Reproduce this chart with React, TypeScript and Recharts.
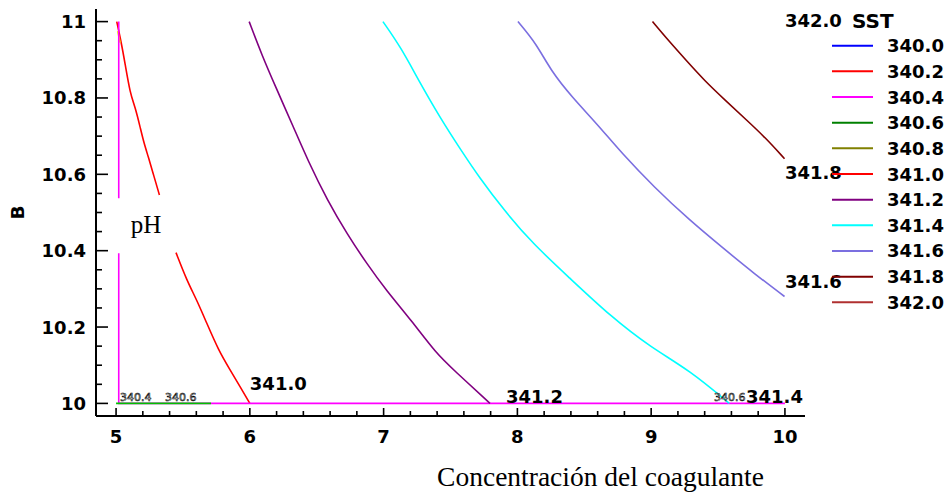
import React from 'react';
import { LineChart, Line, XAxis, YAxis, ReferenceDot, Legend, Label } from 'recharts';

// ---------- axes ----------
const xTicks = [5, 5.2, 5.4, 5.6, 5.8, 6, 6.2, 6.4, 6.6, 6.8, 7, 7.2, 7.4, 7.6, 7.8, 8, 8.2, 8.4, 8.6, 8.8, 9, 9.2, 9.4, 9.6, 9.8, 10];
const xMajorTicks = [5, 6, 7, 8, 9, 10];
const yTicks = [10, 10.05, 10.1, 10.15, 10.2, 10.25, 10.3, 10.35, 10.4, 10.45, 10.5, 10.55, 10.6, 10.65, 10.7, 10.75, 10.8, 10.85, 10.9, 10.95, 11];
const yMajorTicks = [10, 10.2, 10.4, 10.6, 10.8, 11];
const yMajorLabels = ['10', '10.2', '10.4', '10.6', '10.8', '11'];
const xDomain = [4.85, 10.15];
const yDomain = [9.967, 11.033];

// ---------- legend ----------
const levels = ['340.0', '340.2', '340.4', '340.6', '340.8', '341.0', '341.2', '341.4', '341.6', '341.8', '342.0'];
const levelColors = ['#0000ff', '#ff0000', '#ff00ff', '#008000', '#808000', '#ff0000', '#800080', '#00ffff', '#7b6fe0', '#800000', '#b03030'];

// ---------- contours ----------
// 340.4 (magenta) - broken where the "pH" label sits
const c3404X = [5.02, 5.02, 5.02, 5.02, 5.02, 10.0];
const c3404Y = [11.0, 10.537, null, 10.393, 10.0, 10.0];
// 340.6 (green)
const c3406X = [5.0, 5.71];
const c3406Y = [10.0, 10.0];
// 340.8 (small piece near top)
const c3408X = [5.012, 5.03];
const c3408Y = [10.975, 10.945];
// 341.0 (red) - upper and lower parts
const c3410aX = [5.005, 5.035, 5.067, 5.105, 5.142, 5.179, 5.209, 5.241, 5.284, 5.324];
const c3410aY = [11.0, 10.952, 10.891, 10.812, 10.777, 10.725, 10.681, 10.646, 10.594, 10.546];
const c3410bX = [5.448, 5.528, 5.603, 5.678, 5.765, 5.852, 5.927, 6.0];
const c3410bY = [10.395, 10.323, 10.271, 10.21, 10.14, 10.088, 10.044, 10.0];
// 341.2 (purple)
const c3412X = [5.995, 6.087, 6.194, 6.327, 6.434, 6.581, 6.727, 6.874, 7.02, 7.208, 7.395, 7.529, 7.795];
const c3412Y = [11.0, 10.915, 10.828, 10.723, 10.636, 10.531, 10.444, 10.366, 10.296, 10.217, 10.13, 10.086, 10.0];
// 341.4 (cyan)
const c3414X = [6.995, 7.128, 7.262, 7.421, 7.581, 7.715, 7.902, 8.116, 8.383, 8.703, 8.996, 9.29, 9.584];
const c3414Y = [11.0, 10.933, 10.846, 10.749, 10.662, 10.592, 10.505, 10.418, 10.331, 10.226, 10.147, 10.086, 10.0];
// 341.6 (slate blue)
const c3416X = [8.004, 8.142, 8.249, 8.409, 8.596, 8.783, 9.023, 9.29, 9.53, 9.77, 9.997];
const c3416Y = [11.0, 10.942, 10.872, 10.802, 10.732, 10.654, 10.566, 10.479, 10.409, 10.34, 10.28];
// 341.8 (dark red)
const c3418X = [9.01, 9.13, 9.263, 9.397, 9.557, 9.717, 9.851, 9.997];
const c3418Y = [11.0, 10.95, 10.898, 10.846, 10.793, 10.741, 10.697, 10.641];

// ---------- contour labels ----------
const contourLabelText = ['341.0', '341.2', '341.4', '341.6', '341.8', '342.0'];
const contourLabelX = [6.0, 7.915, 9.709, 10.0, 10.0, 10.0];
const contourLabelY = [10.053, 10.019, 10.019, 10.318, 10.606, 11.004];
const smallLabelText = ['340.4', '340.6', '340.6'];
const smallLabelX = [5.03, 5.366, 9.47];
const smallLabelY = [10.004, 10.004, 10.004];
const phLabel = 'pH';
const phX = 5.11;
const phY = 10.446;

const xLabel = 'Concentración del coagulante';
const yLabel = 'B';
const legendTitle = 'SST';

const zip = (xs: number[], ys: (number | null)[]) => xs.map((x, i) => ({ x, y: ys[i] }));

const series = [
  { key: '341.0a', data: zip(c3410aX, c3410aY), color: '#ff0000', curve: 'basis' },
  { key: '341.0b', data: zip(c3410bX, c3410bY), color: '#ff0000', curve: 'basis' },
  { key: '340.8', data: zip(c3408X, c3408Y), color: '#f0f000', curve: 'linear' },
  { key: '340.4', data: zip(c3404X, c3404Y), color: '#ff00ff', curve: 'linear' },
  { key: '340.6', data: zip(c3406X, c3406Y), color: '#00c000', curve: 'linear' },
  { key: '341.2', data: zip(c3412X, c3412Y), color: '#800080', curve: 'basis' },
  { key: '341.4', data: zip(c3414X, c3414Y), color: '#00ffff', curve: 'basis' },
  { key: '341.6', data: zip(c3416X, c3416Y), color: '#7b6fe0', curve: 'basis' },
  { key: '341.8', data: zip(c3418X, c3418Y), color: '#800000', curve: 'basis' },
];

const BOLD = { fontFamily: 'DejaVu Sans, Arial, sans-serif', fontWeight: 'bold' as const };

const isInt = (v: number) => Math.abs(v - Math.round(v)) < 1e-6;
const isYMajor = (v: number) => Math.abs(v * 5 - Math.round(v * 5)) < 1e-6;

const BottomTick = (props: any) => {
  const { x, y, payload } = props;
  const v = payload.value;
  const major = isInt(v);
  return (
    <g>
      <line x1={x} x2={x} y1={y} y2={y - (major ? 8 : 5)} stroke="#000" strokeWidth={1.6} />
      {major && (
        <text x={x} y={y + 27} textAnchor="middle" fontSize={18} fill="#000" {...BOLD}>
          {xMajorTicks.find((m) => Math.abs(m - v) < 1e-6)}
        </text>
      )}
    </g>
  );
};

const TopTick = (props: any) => {
  const { x, y } = props;
  return <line x1={x} x2={x} y1={y} y2={y + 7} stroke="#000" strokeWidth={1.6} />;
};

const LeftTick = (props: any) => {
  const { x, y, payload } = props;
  const v = payload.value;
  const major = isYMajor(v);
  const idx = yMajorTicks.findIndex((m) => Math.abs(m - v) < 1e-6);
  return (
    <g>
      <line x1={x} x2={x + (major ? 12 : 6)} y1={y} y2={y} stroke="#000" strokeWidth={1.6} />
      {major && idx >= 0 && (
        <text x={x - 10} y={y + 6.5} textAnchor="end" fontSize={18} fill="#000" {...BOLD}>
          {yMajorLabels[idx]}
        </text>
      )}
    </g>
  );
};

const RightTick = (props: any) => {
  const { x, y, payload } = props;
  const major = isYMajor(payload.value);
  return <line x1={x} x2={x - (major ? 12 : 6)} y1={y} y2={y} stroke="#000" strokeWidth={1.6} />;
};

const LegendBox = () => (
  <svg width={947} height={495} style={{ position: 'absolute', left: 0, top: 0, overflow: 'visible' }}>
    <text x={852} y={27.5} fontSize={20} fill="#000" {...BOLD}>
      {legendTitle}
    </text>
    {levels.map((lv, i) => {
      const cy = 45.7 + i * 25.66;
      return (
        <g key={lv}>
          <line x1={832} x2={873} y1={cy} y2={cy} stroke={levelColors[i]} strokeWidth={2} />
          <text x={887} y={cy + 6.5} fontSize={18} fill="#000" {...BOLD}>
            {lv}
          </text>
        </g>
      );
    })}
  </svg>
);

export default function App() {
  return (
    <div style={{ position: 'absolute', left: 0, top: 0, width: 947, height: 495, background: '#fff' }}>
      <LineChart width={947} height={495} margin={{ top: 9, right: 142, bottom: 0, left: 0 }}>
        <XAxis
          type="number"
          dataKey="x"
          domain={xDomain}
          allowDataOverflow
          ticks={xTicks}
          interval={0}
          tickSize={0}
          tickMargin={0}
          tickLine={false}
          axisLine={{ stroke: '#000', strokeWidth: 2 }}
          height={79}
          tick={(p: any) => <BottomTick {...p} />}
        >
          <Label
            content={(p: any) => {
              const vb = p.viewBox || { x: 96, y: 416, width: 709 };
              return (
                <text
                  x={vb.x + vb.width / 2 + 150}
                  y={vb.y + 70}
                  textAnchor="middle"
                  fontSize={27.5}
                  fill="#000"
                  fontFamily="Liberation Serif, Times New Roman, serif"
                >
                  {xLabel}
                </text>
              );
            }}
          />
        </XAxis>
        <XAxis
          xAxisId="top"
          orientation="top"
          type="number"
          dataKey="x"
          domain={xDomain}
          allowDataOverflow
          ticks={xTicks}
          interval={0}
          tickSize={0}
          tickMargin={0}
          tickLine={false}
          axisLine={{ stroke: '#000', strokeWidth: 2 }}
          height={0}
          tick={(p: any) => <TopTick {...p} />}
        />
        <YAxis
          type="number"
          domain={yDomain}
          allowDataOverflow
          ticks={yTicks}
          interval={0}
          tickSize={0}
          tickMargin={0}
          tickLine={false}
          axisLine={{ stroke: '#000', strokeWidth: 2 }}
          width={96}
          tick={(p: any) => <LeftTick {...p} />}
        >
          <Label
            content={(p: any) => {
              const vb = p.viewBox || { x: 0, y: 9, height: 407 };
              const cx = vb.x + 17;
              const cy = vb.y + vb.height / 2;
              return (
                <text
                  x={cx}
                  y={cy}
                  textAnchor="middle"
                  dominantBaseline="central"
                  transform={`rotate(-90, ${cx}, ${cy})`}
                  fontSize={18.5}
                  fill="#000"
                  {...BOLD}
                >
                  {yLabel}
                </text>
              );
            }}
          />
        </YAxis>
        <YAxis
          yAxisId="right"
          orientation="right"
          type="number"
          domain={yDomain}
          allowDataOverflow
          ticks={yTicks}
          interval={0}
          tickSize={0}
          tickMargin={0}
          tickLine={false}
          axisLine={{ stroke: '#000', strokeWidth: 2 }}
          width={0}
          tick={(p: any) => <RightTick {...p} />}
        />
        {series.map((s) => (
          <Line
            key={s.key}
            data={s.data}
            dataKey="y"
            type={s.curve as any}
            stroke={s.color}
            strokeWidth={1.6}
            dot={false}
            activeDot={false}
            isAnimationActive={false}
            connectNulls={false}
          />
        ))}
        {contourLabelText.map((t, i) => (
          <ReferenceDot
            key={'cl' + i}
            x={contourLabelX[i]}
            y={contourLabelY[i]}
            r={0}
            ifOverflow="visible"
            shape={(p: any) => (
              <text x={p.cx} y={p.cy + 6.5} fontSize={18} fill="#000" {...BOLD}>
                {t}
              </text>
            )}
          />
        ))}
        {smallLabelText.map((t, i) => (
          <ReferenceDot
            key={'sl' + i}
            x={smallLabelX[i]}
            y={smallLabelY[i]}
            r={0}
            ifOverflow="visible"
            shape={(p: any) => (
              <text
                x={p.cx}
                y={p.cy - 1}
                fontSize={11}
                fill="#fff"
                stroke="#000"
                strokeWidth={0.6}
                fontFamily="DejaVu Sans, sans-serif"
              >
                {t}
              </text>
            )}
          />
        ))}
        <ReferenceDot
          x={phX}
          y={phY}
          r={0}
          ifOverflow="visible"
          shape={(p: any) => (
            <text x={p.cx} y={p.cy} fontSize={25} fill="#000" fontFamily="Liberation Serif, Times New Roman, serif">
              {phLabel}
            </text>
          )}
        />
        <Legend
          layout="horizontal"
          verticalAlign="middle"
          align="center"
          wrapperStyle={{ left: 0, top: 0, width: 947, height: 495, pointerEvents: 'none' }}
          content={() => <LegendBox />}
        />
      </LineChart>
    </div>
  );
}
